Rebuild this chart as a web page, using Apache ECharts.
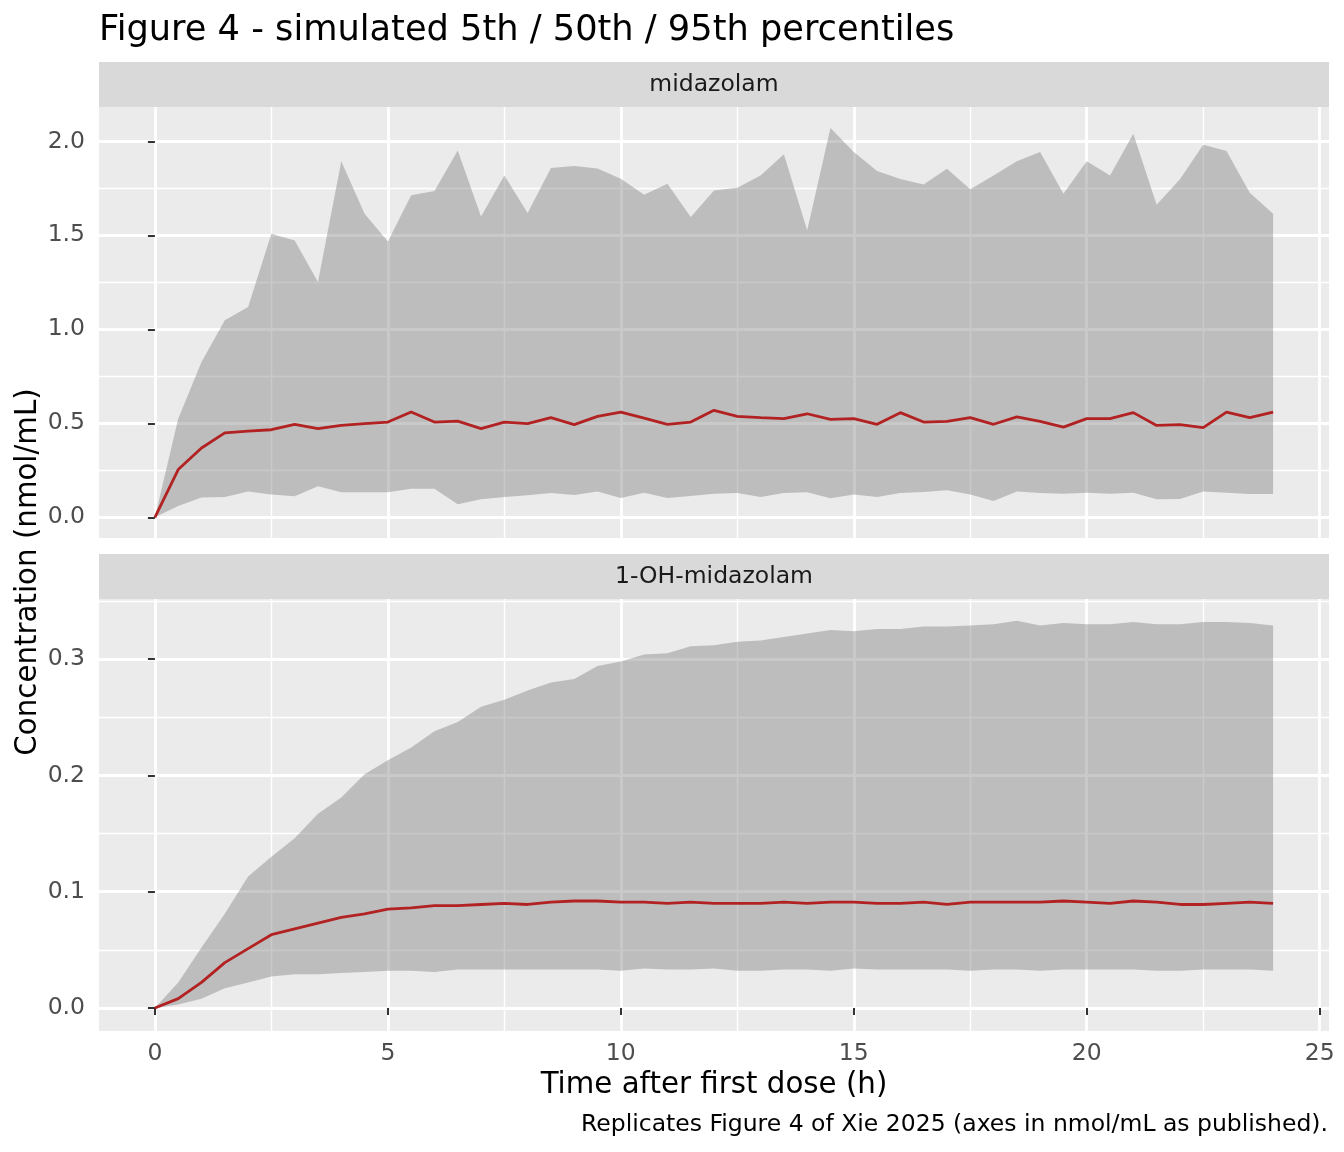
<!DOCTYPE html>
<html lang="en">
<head>
    <meta charset="utf-8">
    <title>Figure 4 - simulated percentiles</title>
    <script src="https://cdn.jsdelivr.net/npm/echarts@6/dist/echarts.min.js"></script>
    <style>
        html, body, #main {
            width: 100%;
            height: 100%;
            margin: 0;
            background: #ffffff;
        }
    </style>
</head>
<body>
<div id="main"></div>
<script>
    // sampling times (h)
    const times = [0, 0.5, 1, 1.5, 2, 2.5, 3, 3.5, 4, 4.5, 5, 5.5, 6, 6.5, 7, 7.5, 8, 8.5, 9, 9.5,
        10, 10.5, 11, 11.5, 12, 12.5, 13, 13.5, 14, 14.5, 15, 15.5, 16, 16.5, 17, 17.5, 18, 18.5, 19, 19.5,
        20, 20.5, 21, 21.5, 22, 22.5, 23, 23.5, 24];

    // midazolam (nmol/mL)
    const midP05 = [0, 0.060, 0.105, 0.108, 0.138, 0.122, 0.112, 0.165, 0.133, 0.133, 0.133, 0.152, 0.152, 0.069, 0.096, 0.108,
        0.117, 0.129, 0.119, 0.138, 0.103, 0.131, 0.103, 0.113, 0.126, 0.129, 0.108, 0.129, 0.133, 0.101, 0.121, 0.108,
        0.129, 0.135, 0.144, 0.122, 0.087, 0.138, 0.129, 0.126, 0.131, 0.126, 0.131, 0.096, 0.097, 0.138, 0.131, 0.124, 0.124];
    const midP50 = [0, 0.254, 0.369, 0.449, 0.459, 0.466, 0.495, 0.472, 0.489, 0.498, 0.507, 0.560, 0.507, 0.512, 0.472, 0.506,
        0.498, 0.530, 0.493, 0.537, 0.560, 0.528, 0.495, 0.507, 0.569, 0.537, 0.530, 0.525, 0.551, 0.521, 0.525, 0.495,
        0.557, 0.507, 0.510, 0.530, 0.495, 0.534, 0.510, 0.480, 0.525, 0.525, 0.557, 0.489, 0.493, 0.477, 0.560, 0.530, 0.560];
    const midP95 = [0, 0.525, 0.826, 1.048, 1.119, 1.509, 1.473, 1.252, 1.895, 1.615, 1.468, 1.713, 1.736, 1.952, 1.601, 1.819,
        1.619, 1.858, 1.869, 1.856, 1.801, 1.716, 1.775, 1.598, 1.739, 1.753, 1.819, 1.931, 1.527, 2.071, 1.943, 1.842,
        1.800, 1.771, 1.855, 1.745, 1.819, 1.895, 1.943, 1.722, 1.894, 1.819, 2.041, 1.663, 1.798, 1.982, 1.949, 1.727, 1.615];

    // 1-OH-midazolam (nmol/mL)
    const ohP05 = [0, 0.003, 0.008, 0.017, 0.022, 0.027, 0.029, 0.029, 0.030, 0.031, 0.032, 0.032, 0.031, 0.033, 0.033, 0.033,
        0.033, 0.033, 0.033, 0.033, 0.032, 0.034, 0.033, 0.033, 0.034, 0.032, 0.032, 0.033, 0.033, 0.032, 0.034, 0.033,
        0.033, 0.033, 0.033, 0.032, 0.033, 0.033, 0.032, 0.033, 0.033, 0.033, 0.033, 0.032, 0.032, 0.033, 0.033, 0.033, 0.032];
    const ohP50 = [0, 0.008, 0.022, 0.039, 0.051, 0.063, 0.068, 0.073, 0.078, 0.081, 0.085, 0.086, 0.088, 0.088, 0.089, 0.090,
        0.089, 0.091, 0.092, 0.092, 0.091, 0.091, 0.090, 0.091, 0.090, 0.090, 0.090, 0.091, 0.090, 0.091, 0.091, 0.090,
        0.090, 0.091, 0.089, 0.091, 0.091, 0.091, 0.091, 0.092, 0.091, 0.090, 0.092, 0.091, 0.089, 0.089, 0.090, 0.091, 0.090];
    const ohP95 = [0, 0.022, 0.052, 0.081, 0.113, 0.130, 0.146, 0.167, 0.181, 0.201, 0.213, 0.224, 0.238, 0.246, 0.259, 0.265,
        0.273, 0.280, 0.283, 0.294, 0.298, 0.304, 0.305, 0.311, 0.312, 0.315, 0.316, 0.319, 0.322, 0.325, 0.324, 0.326,
        0.326, 0.328, 0.328, 0.329, 0.330, 0.333, 0.329, 0.331, 0.330, 0.330, 0.332, 0.330, 0.330, 0.332, 0.332, 0.331, 0.329];

    // axis breaks
    const xBreaks = [0, 5, 10, 15, 20, 25];
    const xMinor = [2.5, 7.5, 12.5, 17.5, 22.5];
    const midBreaks = [0, 0.5, 1.0, 1.5, 2.0];
    const midMinor = [0.25, 0.75, 1.25, 1.75];
    const ohBreaks = [0, 0.1, 0.2, 0.3];
    const ohMinor = [0.05, 0.15, 0.25, 0.35];

    const panelNames = ['midazolam', '1-OH-midazolam'];

    const FONT = 'DejaVu Sans';
    const RIBBON = 'rgba(127,127,127,0.42)';
    const MEDIAN = '#B22222';

    const pairs = (ys) => times.map((t, i) => [t, ys[i]]);

    const chart = echarts.init(document.getElementById('main'), null, {renderer: 'canvas'});

    const grids = [
        {left: 99, top: 107, width: 1230, height: 431, show: true, backgroundColor: '#EBEBEB', borderWidth: 0},
        {left: 99, top: 599, width: 1230, height: 432, show: true, backgroundColor: '#EBEBEB', borderWidth: 0}
    ];

    function xAxisFor(gridIndex, values, lineWidth, withLabels) {
        return {
            type: 'value', gridIndex: gridIndex, min: -1.2, max: 25.2,
            axisLine: {show: false},
            axisTick: {show: withLabels, customValues: values, length: 7, lineStyle: {color: '#333333', width: 2}},
            axisLabel: {show: withLabels, customValues: values, margin: 11, fontSize: 23.5, lineHeight: 24,
                color: '#4D4D4D', fontFamily: FONT},
            splitLine: {show: true, lineStyle: {color: '#FFFFFF', width: lineWidth}}
        };
    }

    function yAxisFor(gridIndex, min, max, values, lineWidth, withLabels) {
        return {
            type: 'value', gridIndex: gridIndex, min: min, max: max,
            axisLine: {show: false},
            axisTick: {show: withLabels, customValues: values, length: 7, lineStyle: {color: '#333333', width: 2}},
            axisLabel: {show: withLabels, customValues: values, margin: 14, fontSize: 23.5,
                color: '#4D4D4D', fontFamily: FONT, formatter: v => v.toFixed(1)},
            splitLine: {show: true, lineStyle: {color: '#FFFFFF', width: lineWidth}}
        };
    }

    // 5th-95th ribbon as one polygon, corners placed through the axis scales
    function ribbonSeries(axisIndex, lo, hi) {
        return {
            type: 'custom', xAxisIndex: axisIndex, yAxisIndex: axisIndex, silent: true, z: 3,
            data: pairs(hi),
            renderItem: function (params, api) {
                if (params.dataIndex !== 0) return null;
                const pts = [];
                for (let i = 0; i < times.length; i++) pts.push(api.coord([times[i], hi[i]]));
                for (let i = times.length - 1; i >= 0; i--) pts.push(api.coord([times[i], lo[i]]));
                return {type: 'polygon', shape: {points: pts}, style: {fill: RIBBON}};
            }
        };
    }

    function medianSeries(axisIndex, mid) {
        return {
            type: 'line', xAxisIndex: axisIndex, yAxisIndex: axisIndex,
            data: pairs(mid), showSymbol: false, silent: true,
            lineStyle: {color: MEDIAN, width: 2.8}, z: 5
        };
    }

    const option = {
        animation: false,
        backgroundColor: '#FFFFFF',
        textStyle: {fontFamily: FONT},
        grid: grids,
        xAxis: [
            xAxisFor(0, xBreaks, 2.8, false),
            xAxisFor(0, xMinor, 1.4, false),
            xAxisFor(1, xBreaks, 2.8, true),
            xAxisFor(1, xMinor, 1.4, false)
        ],
        yAxis: [
            yAxisFor(0, -0.110, 2.183, midBreaks, 2.8, true),
            yAxisFor(0, -0.110, 2.183, midMinor, 1.4, false),
            yAxisFor(1, -0.0198, 0.3517, ohBreaks, 2.8, true),
            yAxisFor(1, -0.0198, 0.3517, ohMinor, 1.4, false)
        ],
        series: [
            ribbonSeries(0, midP05, midP95),
            medianSeries(0, midP50),
            ribbonSeries(2, ohP05, ohP95),
            medianSeries(2, ohP50)
        ],
        graphic: [
            {type: 'rect', shape: {x: 99, y: 62, width: 1230, height: 45}, style: {fill: '#D9D9D9'}, silent: true},
            {type: 'rect', shape: {x: 99, y: 554, width: 1230, height: 45}, style: {fill: '#D9D9D9'}, silent: true},
            {type: 'text', x: 714, y: 85, silent: true,
                style: {text: panelNames[0], fontSize: 23.5, fontFamily: FONT, fill: '#1A1A1A', align: 'center', verticalAlign: 'middle'}},
            {type: 'text', x: 714, y: 577, silent: true,
                style: {text: panelNames[1], fontSize: 23.5, fontFamily: FONT, fill: '#1A1A1A', align: 'center', verticalAlign: 'middle'}},
            {type: 'text', x: 99, y: 31, silent: true,
                style: {text: 'Figure 4 - simulated 5th / 50th / 95th percentiles', fontSize: 35.2, fontFamily: FONT,
                    fill: '#000000', align: 'left', verticalAlign: 'middle'}},
            {type: 'text', x: 714, y: 1085, silent: true,
                style: {text: 'Time after first dose (h)', fontSize: 29.3, fontFamily: FONT,
                    fill: '#000000', align: 'center', verticalAlign: 'middle'}},
            {type: 'text', x: 28, y: 572, rotation: Math.PI / 2, silent: true,
                style: {text: 'Concentration (nmol/mL)', fontSize: 29.3, fontFamily: FONT,
                    fill: '#000000', align: 'center', verticalAlign: 'middle'}},
            {type: 'text', x: 1328, y: 1125, silent: true,
                style: {text: 'Replicates Figure 4 of Xie 2025 (axes in nmol/mL as published).', fontSize: 23.5,
                    fontFamily: FONT, fill: '#000000', align: 'right', verticalAlign: 'middle'}}
        ]
    };

    chart.setOption(option);

    window.onresize = function () {
        chart.resize();
    };
</script>
</body>
</html>
